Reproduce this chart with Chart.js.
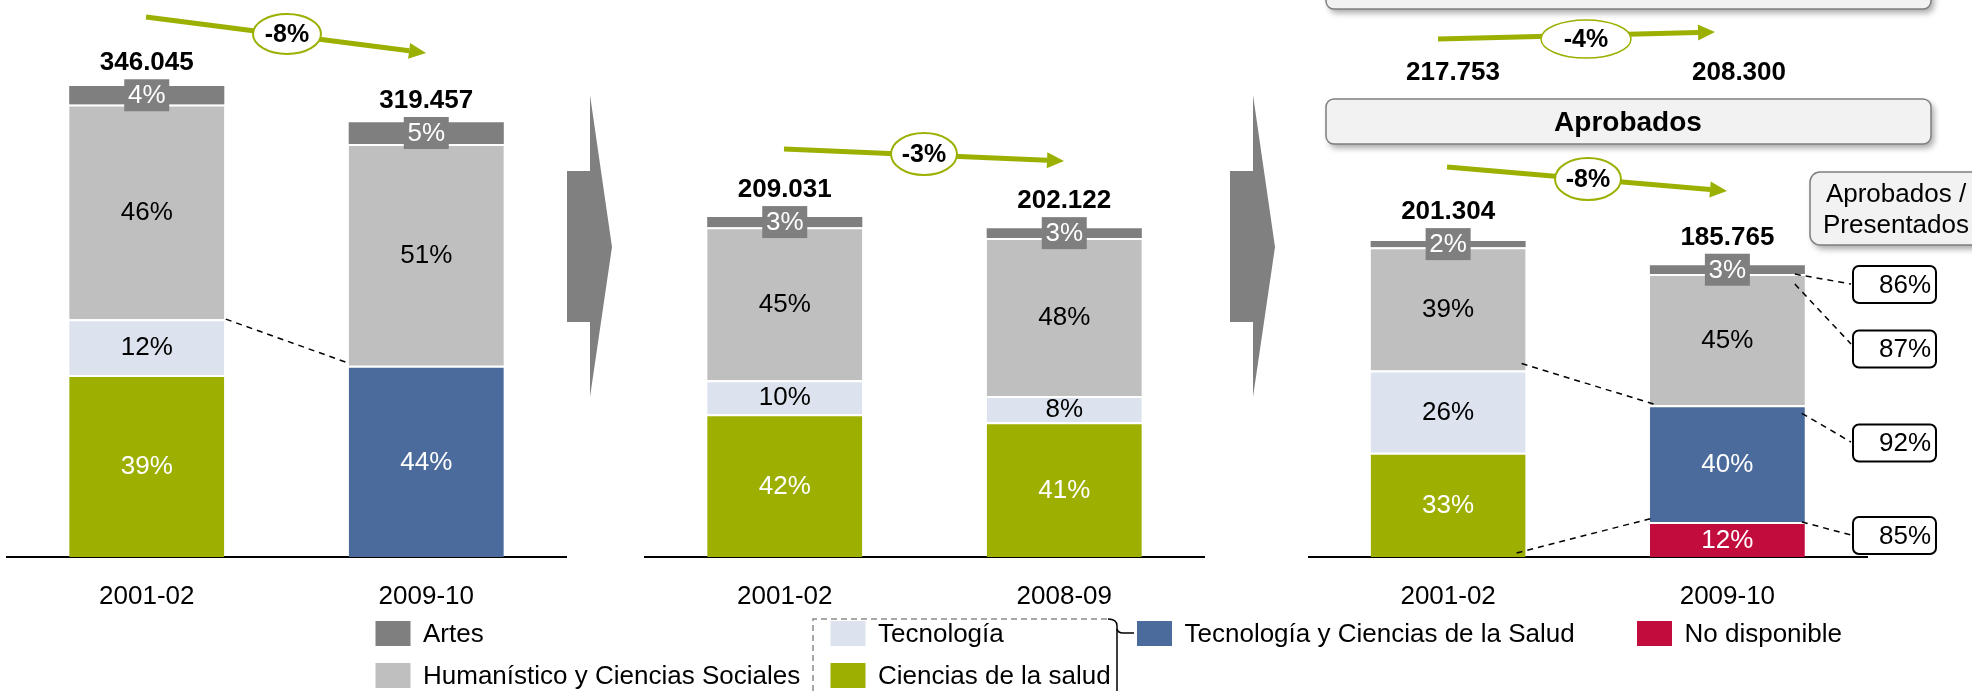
<!DOCTYPE html>
<html>
<head>
<meta charset="utf-8">
<script src="https://cdn.jsdelivr.net/npm/chart.js@4.4.0/dist/chart.umd.min.js"></script>
<style>
  body { margin: 0; background: #fff; }
  #wrap { position: relative; width: 1972px; height: 691px; overflow: hidden; }
  canvas { position: absolute; left: 0; top: 0; }
</style>
</head>
<body>
<div id="wrap">
  <canvas id="decor" width="1972" height="691"></canvas>
  <canvas id="c1" width="1972" height="691"></canvas>
  <canvas id="c2" width="1972" height="691"></canvas>
  <canvas id="c3" width="1972" height="691"></canvas>
</div>
<script>
const FONT = '"Liberation Sans", Arial, Helvetica, sans-serif';
const GREEN = '#9bb000';

// one entry per bar: panel 1 (2 bars), panel 2 (2 bars), panel 3 (2 bars)
const years = ['2001-02', '2009-10', '2001-02', '2008-09', '2001-02', '2009-10'];
const totals = [346045, 319457, 209031, 202122, 201304, 185765];
// share of each field (%)
const artes = [4, 5, 3, 3, 2, 3];
const humanistico = [46, 51, 45, 48, 39, 45];
const tecnologia = [12, null, 10, 8, 26, null];
const cienciasSalud = [39, null, 42, 41, 33, null];
const tecCienciasSalud = [null, 44, null, null, null, 40];
const noDisponible = [null, null, null, null, null, 12];

const changes = ['-8%', '-3%', '-8%'];
const presentadosTotals = [217753, 208300];
const presentadosChange = '-4%';
const ratioLabels = ['86%', '87%', '92%', '85%'];

// stacking order, bottom first
const series = [
  { name: 'No disponible', shares: noDisponible, color: '#c30c3e', text: '#fff' },
  { name: 'Ciencias de la salud', shares: cienciasSalud, color: '#9daf00', text: '#fff' },
  { name: 'Tecnología y Ciencias de la Salud', shares: tecCienciasSalud, color: '#4a6b9b', text: '#fff' },
  { name: 'Tecnología', shares: tecnologia, color: '#dce3ee', text: '#000' },
  { name: 'Humanístico y Ciencias Sociales', shares: humanistico, color: '#bfbfbf', text: '#000' },
  { name: 'Artes', shares: artes, color: '#7f7f7f', text: '#fff', boxed: true }
];

const fmt = n => String(n).replace(/\B(?=(\d{3})+(?!\d))/g, '.');
const shareSum = b => series.reduce((a, s) => a + (s.shares[b] || 0), 0);

// chart area of each panel (page pixels); link points: [bar, dataset, edge, side, dx, dy]
const panels = [
  { id: 'c1', left: 7, right: 566, top: 12.5, max: 400000,
    links: [{ from: [0, 3, 'top', 1, 1.5, 0], to: [1, 2, 'top', -1, -1.5, -3] }] },
  { id: 'c2', left: 645, right: 1204, top: 69, max: 300000, links: [] },
  { id: 'c3', left: 1308.5, right: 1867, top: 86, max: 300000,
    links: [
      { from: [0, 3, 'top', 1, -4, -7], to: [1, 2, 'top', -1, 8, 0] },
      { from: [0, 1, 'base', 1, -9, -4], to: [1, 0, 'top', -1, 3, -4] }
    ],
    boxLinks: [
      { from: [1, 4, 'top', 1, -10, 0], to: [1851, 284] },
      { from: [1, 4, 'top', 1, -10, 10], to: [1851, 344] },
      { from: [1, 2, 'top', 1, -3, 8], to: [1851, 442] },
      { from: [1, 0, 'top', 1, -3, 0], to: [1851, 535] }
    ] }
];

function makeLabels(p, bars) {
  return {
    id: 'segLabels',
    afterDatasetsDraw(chart) {
      const ctx = chart.ctx;
      const metas = chart.data.datasets.map((d, i) => chart.getDatasetMeta(i));
      const pt = (bar, ds, edge, side, dx, dy) => {
        const el = metas[ds].data[bar];
        return [el.x + side * el.width / 2 + dx, (edge === 'top' ? el.y : el.base) + dy];
      };
      ctx.save();
      ctx.textAlign = 'center';
      ctx.textBaseline = 'middle';
      chart.data.datasets.forEach((ds, i) => {
        metas[i].data.forEach((el, j) => {
          const share = ds.shares[j];
          if (share == null) return;
          const cy = (el.y + el.base) / 2;
          ctx.font = '26px ' + FONT;
          if (ds.boxed) {
            ctx.fillStyle = ds.backgroundColor;
            ctx.fillRect(el.x - 22.5, cy - 16, 45, 32);
            ctx.fillStyle = '#fff';
            ctx.fillText(share + '%', el.x, cy + 1);
            ctx.font = 'bold 26px ' + FONT;
            ctx.fillStyle = '#000';
            ctx.fillText(fmt(totals[bars[j]]), el.x, cy - 32);
          } else {
            ctx.fillStyle = ds.textColor;
            ctx.fillText(share + '%', el.x, cy + 1);
          }
        });
      });
      ctx.strokeStyle = '#000';
      ctx.lineWidth = 1.5;
      ctx.setLineDash([6, 5]);
      p.links.forEach(l => {
        const a = pt(...l.from), b = pt(...l.to);
        ctx.beginPath(); ctx.moveTo(a[0], a[1]); ctx.lineTo(b[0], b[1]); ctx.stroke();
      });
      (p.boxLinks || []).forEach(l => {
        const a = pt(...l.from);
        ctx.beginPath(); ctx.moveTo(a[0], a[1]); ctx.lineTo(l.to[0], l.to[1]); ctx.stroke();
      });
      ctx.restore();
    }
  };
}

panels.forEach((p, pi) => {
  const bars = [pi * 2, pi * 2 + 1];
  const datasets = series.map(s => ({
    label: s.name,
    data: bars.map(b => s.shares[b] == null ? null : totals[b] * s.shares[b] / shareSum(b)),
    shares: bars.map(b => s.shares[b]),
    backgroundColor: s.color,
    borderColor: '#fff',
    borderWidth: s.boxed ? 0 : { top: 2, right: 0, bottom: 0, left: 0 },
    barPercentage: 0.555,
    categoryPercentage: 1,
    textColor: s.text,
    boxed: !!s.boxed
  }));
  new Chart(document.getElementById(p.id), {
    type: 'bar',
    data: { labels: bars.map(b => years[b]), datasets },
    options: {
      responsive: false,
      animation: false,
      layout: { padding: { left: p.left, right: 1972 - p.right, top: p.top, bottom: 0 } },
      plugins: { legend: { display: false }, tooltip: { enabled: false } },
      scales: {
        x: {
          stacked: true,
          offset: true,
          grid: { display: false, drawTicks: false },
          border: { display: true, color: '#000', width: 2 },
          ticks: { color: '#000', font: { family: FONT, size: 26 }, padding: 24 },
          afterFit: s => { s.height = 134; }
        },
        y: { stacked: true, display: false, min: 0, max: p.max }
      }
    },
    plugins: [makeLabels(p, bars)]
  });
});

// ---- static decoration ----
const d = document.getElementById('decor').getContext('2d');

function chevron(x) {
  d.fillStyle = '#808080';
  d.beginPath();
  d.moveTo(x, 171); d.lineTo(x + 23, 171); d.lineTo(x + 23, 95);
  d.lineTo(x + 45, 247); d.lineTo(x + 23, 397); d.lineTo(x + 23, 322);
  d.lineTo(x, 322); d.closePath(); d.fill();
}
chevron(567);
chevron(1230);

function greenArrow(x1, y1, x2, y2, cx, cy, rx, ry, text, ew) {
  const ang = Math.atan2(y2 - y1, x2 - x1);
  const hl = 17, hw = 8;
  const bx = x2 - hl * Math.cos(ang), by = y2 - hl * Math.sin(ang);
  d.strokeStyle = GREEN; d.fillStyle = GREEN; d.lineWidth = 5;
  d.beginPath(); d.moveTo(x1, y1); d.lineTo(bx, by); d.stroke();
  d.beginPath();
  d.moveTo(x2, y2);
  d.lineTo(bx + hw * Math.sin(ang), by - hw * Math.cos(ang));
  d.lineTo(bx - hw * Math.sin(ang), by + hw * Math.cos(ang));
  d.closePath(); d.fill();
  d.beginPath(); d.ellipse(cx, cy, rx, ry, 0, 0, Math.PI * 2);
  d.fillStyle = '#fff'; d.fill();
  d.lineWidth = ew; d.strokeStyle = GREEN; d.stroke();
  d.fillStyle = '#000'; d.font = 'bold 25px ' + FONT;
  d.textAlign = 'center'; d.textBaseline = 'middle';
  d.fillText(text, cx, cy + 1);
}
greenArrow(146, 17, 426, 53, 287, 34, 34, 20, changes[0], 2);
greenArrow(784, 149, 1064, 161, 924, 154, 33, 21, changes[1], 2);
greenArrow(1447, 167, 1727, 191, 1588, 179, 33, 21, changes[2], 2);
greenArrow(1438, 39, 1715, 32, 1586, 39, 45, 19, presentadosChange, 1.5);

function box(x, y, w, h, r) {
  d.save();
  d.shadowColor = 'rgba(0,0,0,0.35)';
  d.shadowBlur = 6; d.shadowOffsetX = 3; d.shadowOffsetY = 4;
  d.beginPath(); d.roundRect(x, y, w, h, r);
  d.fillStyle = '#f2f2f2'; d.fill();
  d.restore();
  d.beginPath(); d.roundRect(x, y, w, h, r);
  d.lineWidth = 1.5; d.strokeStyle = '#7f7f7f'; d.stroke();
}
box(1326, -40, 605, 49, 8);
box(1326, 99, 605, 45, 8);
box(1810, 172, 180, 73, 10);

d.fillStyle = '#000';
d.textAlign = 'center'; d.textBaseline = 'middle';
d.font = 'bold 28px ' + FONT;
d.fillText('Aprobados', 1628, 123);
d.font = 'bold 26px ' + FONT;
d.fillText(fmt(presentadosTotals[0]), 1453, 73);
d.fillText(fmt(presentadosTotals[1]), 1739, 73);
d.font = '26px ' + FONT;
d.fillText('Aprobados /', 1896, 195);
d.fillText('Presentados', 1896, 226);

// ratio boxes
[284.5, 349, 443, 535.5].forEach((cy, i) => {
  d.beginPath(); d.roundRect(1853, cy - 18.5, 83, 37, 6);
  d.fillStyle = '#fff'; d.fill();
  d.lineWidth = 2; d.strokeStyle = '#000'; d.stroke();
  d.fillStyle = '#000'; d.font = '26px ' + FONT;
  d.textAlign = 'right';
  d.fillText(ratioLabels[i], 1931, cy + 1);
});

// legend
const legendSpots = [
  ['Artes', 375.5, 621], ['Humanístico y Ciencias Sociales', 375.5, 663],
  ['Tecnología', 830.5, 621], ['Ciencias de la salud', 830.5, 663],
  ['Tecnología y Ciencias de la Salud', 1137, 621], ['No disponible', 1637, 621]
];
legendSpots.forEach(([name, x, y]) => {
  const s = series.find(v => v.name === name);
  d.fillStyle = s.color;
  d.fillRect(x, y, 35, 25);
  d.fillStyle = '#000'; d.font = '26px ' + FONT;
  d.textAlign = 'left'; d.textBaseline = 'middle';
  d.fillText(name, x + 47.5, y + 13.5);
});
// dashed group frame + brace
d.save();
d.strokeStyle = '#8c8c8c'; d.lineWidth = 1.5; d.setLineDash([6, 4]);
d.beginPath(); d.moveTo(813, 691); d.lineTo(813, 619); d.lineTo(1108, 619); d.stroke();
d.restore();
d.strokeStyle = '#000'; d.lineWidth = 1.5;
d.beginPath(); d.moveTo(1108, 619); d.quadraticCurveTo(1117, 619, 1117, 626); d.lineTo(1117, 691); d.stroke();
d.beginPath(); d.moveTo(1117, 629); d.quadraticCurveTo(1118, 633, 1123, 633); d.lineTo(1134, 633); d.stroke();
</script>
</body>
</html>
